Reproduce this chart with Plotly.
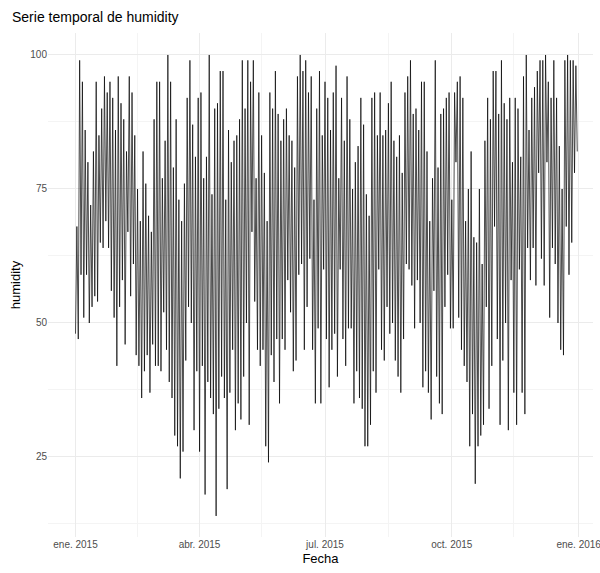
import pandas as pd
import plotly.graph_objects as go

# Daily relative humidity (%) for 2015, one list per quarter
hum_q1 = [48, 68, 47, 99, 59, 95, 51, 86, 59, 80, 50, 72, 53, 82, 55, 95, 54, 85, 65, 90,
          64, 96, 69, 93, 64, 95, 56, 92,
          51, 86, 42, 96, 53, 91, 58, 88, 46, 82, 67, 96, 55, 93, 61, 85, 44, 75, 42, 69,
          36, 82, 41, 76, 44, 70, 37, 67, 46, 88, 42, 95,
          42, 95, 41, 77, 52, 84, 45, 100, 39, 95, 36, 79, 29, 88, 27, 73, 21, 69, 26, 76,
          43, 92, 53, 99, 50, 87, 30, 81, 41, 92]
hum_q2 = [26, 93,
          42, 77, 18, 81, 39, 100, 36, 74, 33, 90, 14, 91, 34, 97, 40, 97, 36, 73, 19, 86,
          37, 80, 45, 84, 30, 85, 35, 88, 32, 99, 40, 90,
          50, 99, 31, 95, 67, 99, 54, 77, 45, 93, 42, 85, 45, 78, 27, 69, 24, 93, 44, 90,
          39, 97, 47, 89, 35, 84, 47, 88, 45, 90, 58, 85,
          52, 84, 41, 79, 43, 96, 59, 100, 61, 97, 45, 99, 53, 93, 62, 96, 45, 73, 35, 90,
          49, 97, 35, 85, 60]
hum_q3 = [95, 47, 92, 38, 86, 45, 93,
          48, 98, 40, 77, 60, 92, 47, 84, 42, 96, 49, 88, 49, 75, 35, 80, 41, 83, 36, 92,
          34, 87, 27, 74, 27, 70, 31, 92, 41, 93, 37, 85,
          60, 93, 45, 85, 43, 86, 53, 91, 48, 95, 50, 84, 43, 81, 40, 85, 37, 78, 47, 93,
          61, 96, 60, 99, 57, 89, 49, 90, 58, 86, 50, 95,
          38, 95, 41, 82, 37, 69, 32, 77, 56, 99, 40, 79, 35, 89, 33, 90, 53, 92, 59, 93, 49]
hum_q4 = [73, 49, 93, 80, 95, 51, 96, 45, 92, 42, 69,
          39, 75, 27, 82, 33, 66, 20, 65, 27, 75, 29, 61, 31, 84, 53, 92, 34, 88, 42, 97,
          68, 97, 47, 89, 31, 99, 43, 91, 50, 88, 30, 92,
          58, 80, 37, 92, 31, 90, 60, 81, 37, 96, 33, 100, 64, 86, 58, 92, 64, 94, 57, 97,
          78, 99, 62, 99, 57, 100, 80, 95, 51, 92, 64, 99,
          61, 92, 50, 83, 45, 75, 44, 99, 68, 100, 59, 99, 65, 99, 78, 98, 82]

humidity = hum_q1 + hum_q2 + hum_q3 + hum_q4
fechas = pd.date_range("2015-01-01", periods=len(humidity), freq="D")

tick_dates = ["2015-01-01", "2015-04-01", "2015-07-01", "2015-10-01", "2016-01-01"]
tick_labels = ["ene. 2015", "abr. 2015", "jul. 2015", "oct. 2015", "ene. 2016"]
minor_dates = ["2015-02-15", "2015-05-16", "2015-08-16", "2015-11-15"]
y_ticks = [25, 50, 75, 100]
y_minor = [12.5, 37.5, 62.5, 87.5]

FONT = "Liberation Sans, Arial, sans-serif"
GRID = "#EBEBEB"
GRID_MINOR = "#F4F4F4"

fig = go.Figure()
fig.add_trace(go.Scatter(
    x=fechas, y=humidity, mode="lines",
    line=dict(color="black", width=0.7),
    showlegend=False, hoverinfo="x+y",
))

fig.update_layout(
    width=600, height=573,
    margin=dict(l=48, r=7, t=33, b=36),
    paper_bgcolor="white", plot_bgcolor="white",
    font=dict(family=FONT, color="black"),
    title=dict(text="Serie temporal de humidity", x=12 / 600, xref="container",
               xanchor="left", y=1 - 17 / 573, yref="container", yanchor="middle",
               font=dict(size=14, color="black")),
)

fig.update_xaxes(
    type="date",
    range=["2014-12-12 01:00", "2016-01-11 10:00"],
    tickvals=tick_dates, ticktext=tick_labels,
    tickfont=dict(size=10, color="#4D4D4D"),
    ticklabeloverflow="allow", automargin=False,
    showgrid=True, gridcolor=GRID, gridwidth=1,
    minor=dict(tickvals=minor_dates, showgrid=True, gridcolor=GRID_MINOR, gridwidth=1),
    zeroline=False, showline=False, ticks="",
    title=dict(text="Fecha", font=dict(size=13, color="black"), standoff=4),
)
fig.update_yaxes(
    range=[10.07, 104.1],
    tickvals=y_ticks,
    tickfont=dict(size=10, color="#4D4D4D"),
    automargin=False,
    showgrid=True, gridcolor=GRID, gridwidth=1,
    minor=dict(tickvals=y_minor, showgrid=True, gridcolor=GRID_MINOR, gridwidth=1),
    zeroline=False, showline=False, ticks="",
    title=dict(text="humidity", font=dict(size=13, color="black"), standoff=6),
)

fig.write_html("out.html")
